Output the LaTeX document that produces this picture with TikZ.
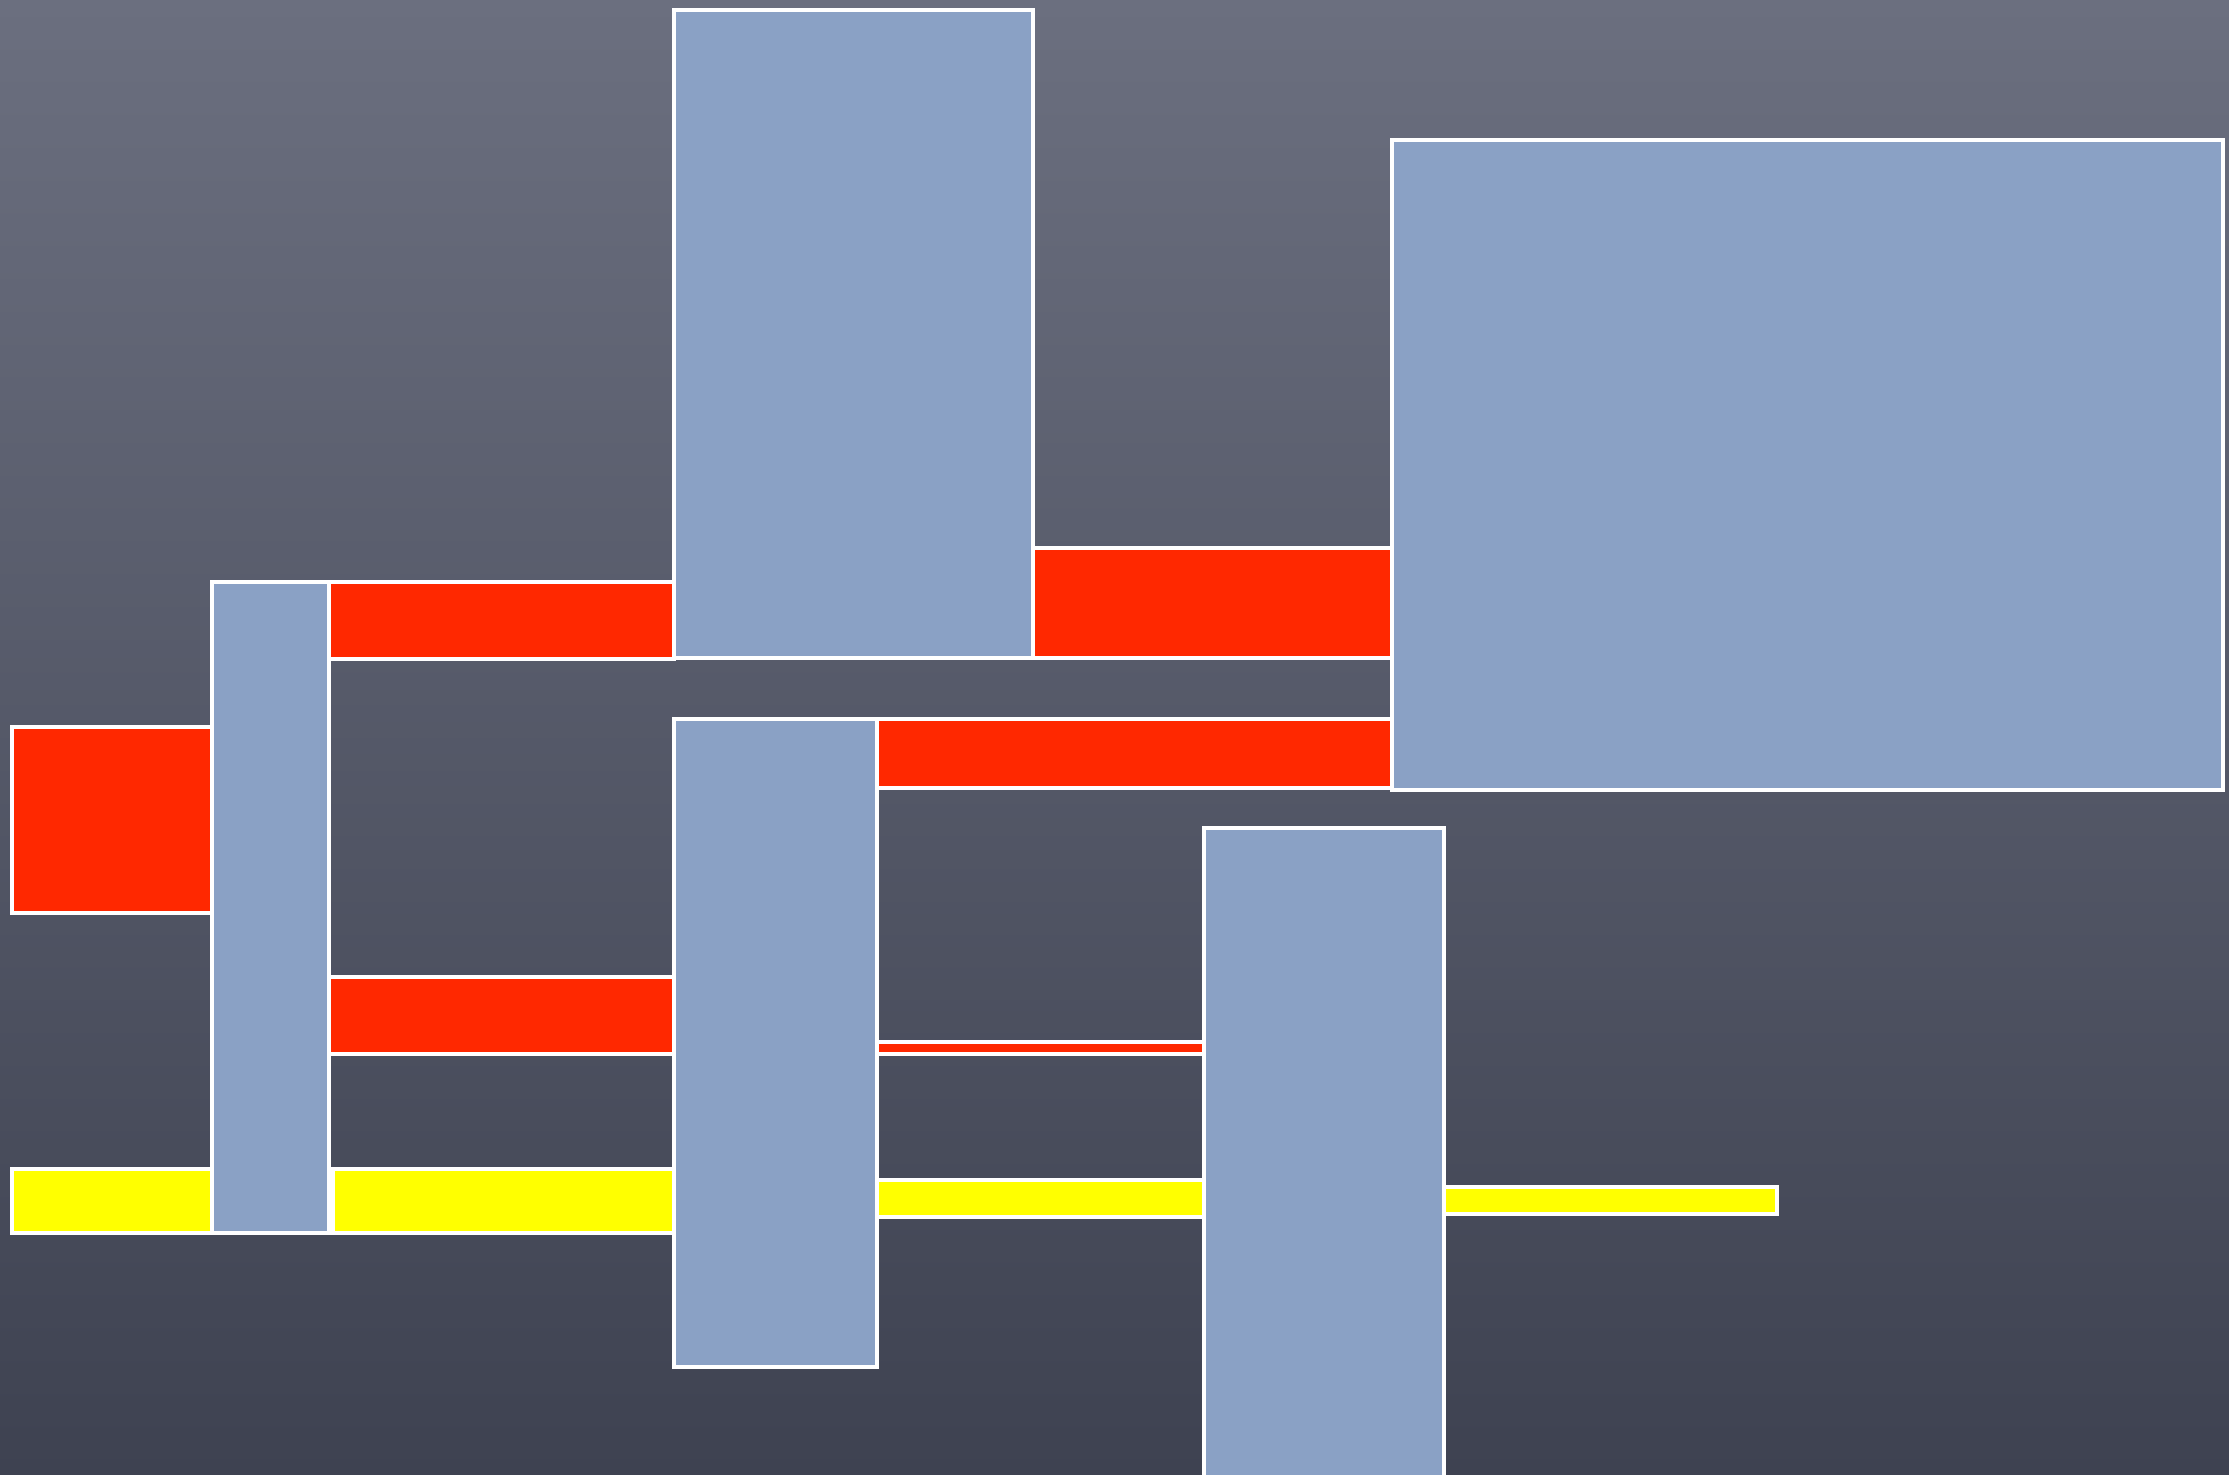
\documentclass[tikz,border=0pt]{standalone}
\usepackage{tikz}

\definecolor{slatetop}{HTML}{6B6F7F}
\definecolor{slatebot}{HTML}{3E4251}
\definecolor{paleblue}{HTML}{8AA1C5}
\definecolor{hotred}{HTML}{FF2800}
\definecolor{lemon}{HTML}{FFFF00}

\begin{document}
\begin{tikzpicture}[x=0.01cm, y=-0.01cm,
    panel/.style={draw=white, line width=1.4pt},
    bluepanel/.style={panel, fill=paleblue},
    redbar/.style={panel, fill=hotred},
    yellowbar/.style={panel, fill=lemon}]
  % Background board
  \shade[top color=slatetop, bottom color=slatebot] (0,0) rectangle (2229,1475);
  \useasboundingbox (0,0) rectangle (2229,1475);

  % Red bars
  \draw[redbar] (329,582)  rectangle (674,659);
  \draw[redbar] (1033,548) rectangle (1392,658);
  \draw[redbar] (12,727)   rectangle (212,913);
  \draw[redbar] (877,719)  rectangle (1392,788);
  \draw[redbar] (329,977)  rectangle (674,1054);
  \draw[redbar] (877,1042) rectangle (1204,1054);

  % Yellow bars
  \draw[yellowbar] (12,1169)   rectangle (212,1233);
  \draw[yellowbar] (333,1169)  rectangle (674,1233);
  \draw[yellowbar] (877,1180)  rectangle (1204,1217);
  \draw[yellowbar] (1444,1187) rectangle (1777,1214);

  % Blue panels
  \draw[bluepanel] (674,10)   rectangle (1033,658);
  \draw[bluepanel] (1392,140) rectangle (2223,790);
  \draw[bluepanel] (212,582)  rectangle (329,1233);
  \draw[bluepanel] (674,719)  rectangle (877,1367);
  \draw[bluepanel] (1204,828) rectangle (1444,1480);
\end{tikzpicture}
\end{document}
